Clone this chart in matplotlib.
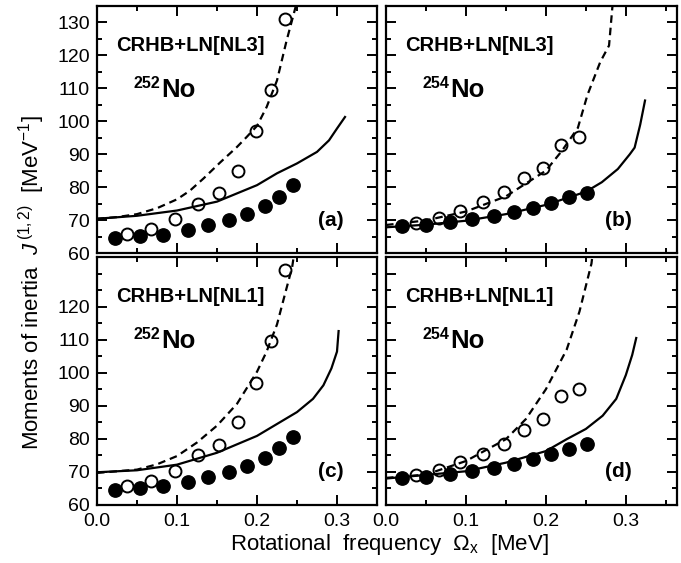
import matplotlib
matplotlib.use("Agg")
import matplotlib.pyplot as plt
from matplotlib.ticker import MultipleLocator

plt.rcParams['font.family'] = ['Liberation Sans', 'DejaVu Sans']
plt.rcParams['mathtext.fontset'] = 'custom'
plt.rcParams['mathtext.rm'] = 'Liberation Sans'
plt.rcParams['mathtext.it'] = 'Liberation Sans:italic'
plt.rcParams['mathtext.bf'] = 'Liberation Sans:bold'

# experimental J(1) (filled) and J(2) (open)
om_252_j1 = [0.0225, 0.054, 0.083, 0.114, 0.139, 0.165, 0.1875, 0.21, 0.2275, 0.245]
j_252_j1 = [64.6, 65.1, 65.6, 66.9, 68.6, 70.0, 71.7, 74.3, 77.1, 80.6]
om_252_j2 = [0.038, 0.068, 0.098, 0.126, 0.152, 0.176, 0.199, 0.218, 0.235]
j_252_j2 = [65.7, 67.4, 70.4, 75.0, 78.2, 85.0, 97.0, 109.6, 131.0]

om_254_j1 = [0.020, 0.050, 0.080, 0.108, 0.135, 0.160, 0.184, 0.207, 0.229, 0.251]
j_254_j1 = [68.1, 68.6, 69.3, 70.3, 71.3, 72.5, 73.8, 75.3, 76.9, 78.3]
om_254_j2 = [0.037, 0.066, 0.093, 0.121, 0.147, 0.172, 0.196, 0.219, 0.241]
j_254_j2 = [69.1, 70.6, 72.9, 75.4, 78.4, 82.7, 85.9, 92.9, 95.2]

# CRHB+LN curves: solid = J(1), dashed = J(2)
om_a_sol = [0, 0.05, 0.1, 0.15, 0.2, 0.225, 0.25, 0.275, 0.29, 0.3, 0.31]
j_a_sol = [70.4, 71.3, 72.9, 75.6, 80.6, 84.2, 87.2, 90.7, 94.2, 97.8, 101.3]
om_a_dash = [0, 0.025, 0.05, 0.075, 0.1, 0.116, 0.133, 0.154, 0.175, 0.187, 0.2,
             0.212, 0.225, 0.237, 0.248, 0.252]
j_a_dash = [70.4, 70.9, 71.8, 73.6, 76.3, 78.9, 82.6, 87.5, 92.2, 95.2, 98.6,
            104.3, 112.4, 124.5, 134.5, 138.0]

om_b_sol = [0, 0.05, 0.1, 0.15, 0.2, 0.25, 0.27, 0.29, 0.305, 0.311, 0.318, 0.324]
j_b_sol = [67.8, 68.6, 69.8, 71.8, 74.6, 78.6, 81.5, 85.5, 90.0, 92.0, 99.0, 106.3]
om_b_dash = [0, 0.05, 0.1, 0.15, 0.2, 0.22, 0.24, 0.252, 0.268, 0.279, 0.284]
j_b_dash = [68.5, 69.9, 72.6, 77.2, 85.0, 91.0, 98.0, 108.0, 118.0, 123.0, 137.0]

om_c_sol = [0, 0.05, 0.1, 0.15, 0.2, 0.225, 0.25, 0.27, 0.283, 0.293, 0.3, 0.302]
j_c_sol = [69.9, 70.5, 72.2, 75.8, 80.9, 84.5, 88.1, 92.1, 96.2, 101.3, 106.4, 112.6]
om_c_dash = [0, 0.05, 0.075, 0.1, 0.125, 0.15, 0.175, 0.2, 0.212, 0.225, 0.235, 0.244,
             0.247]
j_c_dash = [69.7, 70.7, 72.3, 74.8, 78.9, 84.0, 90.6, 100.3, 106.4, 114.6, 123.8,
            132.0, 137.0]

om_d_sol = [0, 0.1, 0.15, 0.2, 0.226, 0.25, 0.271, 0.288, 0.3, 0.308, 0.313]
j_d_sol = [68.0, 70.2, 72.8, 76.3, 79.9, 83.0, 87.0, 92.1, 99.3, 105.4, 110.5]
om_d_dash = [0, 0.05, 0.1, 0.15, 0.175, 0.2, 0.226, 0.242, 0.257, 0.259]
j_d_dash = [68.2, 69.2, 73.3, 79.9, 86.0, 95.0, 107.0, 118.5, 133.0, 137.0]

W, H = 681, 563
fig = plt.figure(figsize=(W / 100, H / 100), dpi=100)


def panel(rect, xmax, sol, dash, j1, j2, force, nucl, tag, left, bottom, ytop):
    ax = fig.add_axes([rect[0] / W, 1 - rect[3] / H, (rect[2] - rect[0]) / W,
                       (rect[3] - rect[1]) / H])
    ax.plot(sol[0], sol[1], '-', color='k', lw=1.6)
    ax.plot(dash[0], dash[1], color='k', lw=1.6, ls=(0, (3.4, 2.2)))
    ax.plot(j1[0], j1[1], 'o', color='k', ms=9.6, ls='none')
    ax.plot(j2[0], j2[1], 'o', mfc='none', mec='k', mew=1.4, ms=8.6, ls='none')

    ax.set_xlim(0, xmax)
    ax.set_ylim(60, 135)
    ax.xaxis.set_major_locator(MultipleLocator(0.1))
    ax.xaxis.set_minor_locator(MultipleLocator(0.05))
    ax.yaxis.set_major_locator(MultipleLocator(10))
    ax.yaxis.set_minor_locator(MultipleLocator(5))
    ax.tick_params(which='both', direction='in', top=True, right=True,
                   width=1.4, labelsize=14)
    ax.tick_params(which='major', length=7)
    ax.tick_params(which='minor', length=3.8)
    ax.tick_params(axis='x', pad=5.5)
    ax.tick_params(axis='y', pad=5)
    for s in ax.spines.values():
        s.set_linewidth(1.6)

    if bottom:
        ax.set_xticks([0, 0.1, 0.2, 0.3])
        ax.set_xticklabels(['0.0', '0.1', '0.2', '0.3'])
    else:
        ax.set_xticklabels([])
    if left:
        yt = list(range(60, ytop + 1, 10))
        ax.set_yticks(yt)
        ax.set_yticklabels([str(v) for v in yt])
    else:
        ax.set_yticklabels([])

    ax.text(0.024, 123.0, force, fontsize=14.5, weight='bold', va='center')
    ax.text(0.046, 110.2, nucl, fontsize=11.5, weight='bold', va='baseline')
    ax.text(0.080, 107.4, 'No', fontsize=18.5, weight='bold', va='baseline')
    ax.text(0.308, 70.0, tag, fontsize=15, weight='bold', va='center', ha='right')
    return ax


panel((97, 6, 377, 253), 0.35, (om_a_sol, j_a_sol), (om_a_dash, j_a_dash),
      (om_252_j1, j_252_j1), (om_252_j2, j_252_j2),
      'CRHB+LN[NL3]', '252', '(a)', True, False, 130)
panel((386, 6, 677, 253), 0.364, (om_b_sol, j_b_sol), (om_b_dash, j_b_dash),
      (om_254_j1, j_254_j1), (om_254_j2, j_254_j2),
      'CRHB+LN[NL3]', '254', '(b)', False, False, 130)
panel((97, 257, 377, 505), 0.35, (om_c_sol, j_c_sol), (om_c_dash, j_c_dash),
      (om_252_j1, j_252_j1), (om_252_j2, j_252_j2),
      'CRHB+LN[NL1]', '252', '(c)', True, True, 120)
panel((386, 257, 677, 505), 0.364, (om_d_sol, j_d_sol), (om_d_dash, j_d_dash),
      (om_254_j1, j_254_j1), (om_254_j2, j_254_j2),
      'CRHB+LN[NL1]', '254', '(d)', False, True, 120)

fig.text(32 / W, 1 - 283 / H,
         r'Moments of inertia  $\mathit{J}^{\,(1,2)}$  [MeV$^{-1}$]',
         rotation=90, ha='center', va='center', fontsize=16)
fig.text(389 / W, 1 - 550 / H, r'Rotational  frequency  $\Omega_{\rm x}$  [MeV]',
         ha='center', va='baseline', fontsize=16)

fig.savefig('out.png', dpi=100)
